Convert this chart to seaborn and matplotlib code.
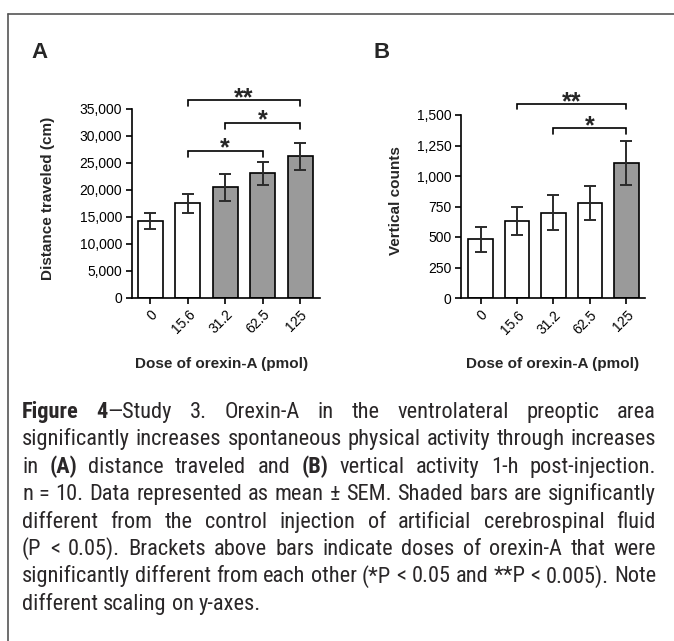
import re
import matplotlib
matplotlib.use('Agg')
import numpy as np
import pandas as pd
import matplotlib.pyplot as plt
import seaborn as sns
from matplotlib.lines import Line2D
from matplotlib.ticker import FuncFormatter
from matplotlib import font_manager

# data (mean +- SEM)
doses = ['0', '15.6', '31.2', '62.5', '125']

dist_mean = [14300, 17500, 20450, 23050, 26250]
dist_sem = [1500, 1750, 2450, 2150, 2500]
dist_shaded = [False, False, True, True, True]
# (from bar, to bar, label, bracket height, end height)
dist_brackets = [(1, 4, '**', 36650, 35540),
                 (2, 4, '*', 32450, 31340),
                 (1, 3, '*', 27260, 26080)]

vert_mean = [480, 630, 700, 780, 1105]
vert_sem = [100, 116, 145, 140, 182]
vert_shaded = [False, False, False, False, True]
vert_brackets = [(1, 4, '**', 1590, 1546),
                 (2, 4, '*', 1393, 1344)]

# caption lines, {..} marks bold
caption = [
    "{Figure} {4}\u2014Study 3. Orexin-A in the ventrolateral preoptic area",
    "significantly increases spontaneous physical activity through increases",
    "in {(A)} distance traveled and {(B)} vertical activity 1-h post-injection.",
    "n = 10. Data represented as mean \u00b1 SEM. Shaded bars are significantly",
    "different from the control injection of artificial cerebrospinal fluid",
    "(P < 0.05). Brackets above bars indicate doses of orexin-A that were",
    "significantly different from each other (*P < 0.05 and **P < 0.005). Note",
    "different scaling on y-axes.",
]

GRAY = '#9a9a9a'
W, H = 674, 641

sns.set_style('ticks')
plt.rcParams['font.family'] = ['Liberation Sans', 'DejaVu Sans']

names = {f.name for f in font_manager.fontManager.ttflist}
narrow_choices = ['Liberation Sans Narrow', 'Arial Narrow', 'Roboto Condensed',
                  'Archivo Narrow', 'PT Sans Narrow', 'Liberation Sans']
cap_font = next(c for c in narrow_choices if c in names)
cap_family = [cap_font, 'DejaVu Sans']

fig = plt.figure(figsize=(W / 100, H / 100), dpi=100)


def px_axes(l, t, r, b):
    return fig.add_axes([l / W, 1 - b / H, (r - l) / W, (b - t) / H])


def draw_panel(ax, mean, sem, shaded, ymax, ystep, ylabel, brackets, xlim, ylab_xy, xlab_xy):
    df = pd.DataFrame({'dose': doses, 'mean': mean})
    pal = {d: (GRAY if s else 'white') for d, s in zip(doses, shaded)}
    sns.barplot(data=df, x='dose', y='mean', hue='dose', palette=pal, legend=False,
                width=0.667, edgecolor='black', linewidth=1.2, errorbar=None,
                saturation=1, ax=ax)
    ax.errorbar(np.arange(len(doses)), mean, yerr=sem, fmt='none', ecolor='#2b2b2b',
                elinewidth=1.4, capsize=4.5, capthick=1.4, zorder=5)

    ax.set_ylim(0, ymax)
    ax.set_xlim(*xlim)
    ax.set_yticks(np.arange(0, ymax + 1, ystep))
    ax.yaxis.set_major_formatter(FuncFormatter(lambda v, p: f'{int(v):,}'))
    ax.set_xticks(range(len(doses)))
    ax.set_xticklabels(doses, rotation=45, ha='right', rotation_mode='anchor')
    ax.tick_params(axis='both', direction='out', length=4, width=1.2, colors='black',
                   labelsize=10, pad=3)
    for s in ['top', 'right']:
        ax.spines[s].set_visible(False)
    for s in ['left', 'bottom']:
        ax.spines[s].set_linewidth(1.2)
        ax.spines[s].set_color('black')

    ax.set_ylabel(ylabel, fontsize=11, fontweight='bold')
    ax.yaxis.set_label_coords(*ylab_xy)
    ax.set_xlabel('Dose of orexin-A (pmol)', fontsize=11, fontweight='bold')
    ax.xaxis.set_label_coords(*xlab_xy)

    for a, b, lab, top, end in brackets:
        ax.plot([a, a, b, b], [end, top, top, end], color='black', lw=1.2,
                clip_on=False, solid_joinstyle='miter')
        ax.annotate(lab, xy=((a + b) / 2, top), xytext=(0, -3.6),
                    textcoords='offset points', ha='center', va='baseline',
                    fontsize=18, fontweight='bold', annotation_clip=False)


axA = px_axes(132, 109, 320, 297.7)
axB = px_axes(461, 115, 645, 298)

draw_panel(axA, dist_mean, dist_sem, dist_shaded, 35000, 5000, 'Distance traveled (cm)',
           dist_brackets, (-0.49, 4.53), (-0.41, 0.528), (0.476, -0.315))
draw_panel(axB, vert_mean, vert_sem, vert_shaded, 1500, 250, 'Vertical counts',
           vert_brackets, (-0.535, 4.51), (-0.315, 0.535), (0.495, -0.325))

# panel letters
fig.text(31 / W, 1 - 58.3 / H, 'A', fontsize=16, fontweight='bold', va='baseline')
fig.text(374 / W, 1 - 58.3 / H, 'B', fontsize=16, fontweight='bold', va='baseline')

# frame lines (top and left)
fig.add_artist(Line2D([8.3 / W, 1], [1 - 13.7 / H] * 2, color='#555555', lw=1.2,
                      transform=fig.transFigure))
fig.add_artist(Line2D([8.3 / W] * 2, [0, 1 - 13.7 / H], color='#555555', lw=1.2,
                      transform=fig.transFigure))

# justified caption
cap_color = '#2a2728'
x0, x1 = 22, 656
renderer = fig.canvas.get_renderer()


def measure(s, size, bold=False):
    t = fig.text(0, 0, s, fontsize=size, family=cap_family,
                 fontweight='bold' if bold else 'normal')
    w = t.get_window_extent(renderer).width
    t.remove()
    return w


def split_words(line):
    out = []
    for w in line.split(' '):
        segs = [(p.strip('{}'), p.startswith('{'))
                for p in re.split(r'(\{[^}]*\})', w) if p]
        out.append(segs)
    return out


# pick a size so that the fullest line fits the measure with normal spaces
base = 10
sp = measure('a a', base) - measure('aa', base)
natural = []
for line in caption[:-1]:
    words = split_words(line)
    natural.append(sum(measure(s, base, b) for segs in words for s, b in segs)
                   + sp * (len(words) - 1))
cap_size = min(17, base * (x1 - x0) / max(natural) * 0.99)
space_w = measure('a a', cap_size) - measure('aa', cap_size)

for i, line in enumerate(caption):
    y = 1 - (418 + i * 27.4) / H
    words = []
    for segs_txt in split_words(line):
        segs = []
        for s, bold in segs_txt:
            t = fig.text(0, y, s, fontsize=cap_size, family=cap_family,
                         fontweight='bold' if bold else 'normal', color=cap_color,
                         va='baseline')
            segs.append((t, t.get_window_extent(renderer).width))
        words.append(segs)
    widths = [sum(wd for _, wd in segs) for segs in words]
    if i == len(caption) - 1:
        gap = space_w
    else:
        gap = (x1 - x0 - sum(widths)) / (len(words) - 1)
    x = x0
    for segs in words:
        for t, wd in segs:
            t.set_x(x / W)
            x += wd
        x += gap

fig.savefig('out.png', dpi=100)
